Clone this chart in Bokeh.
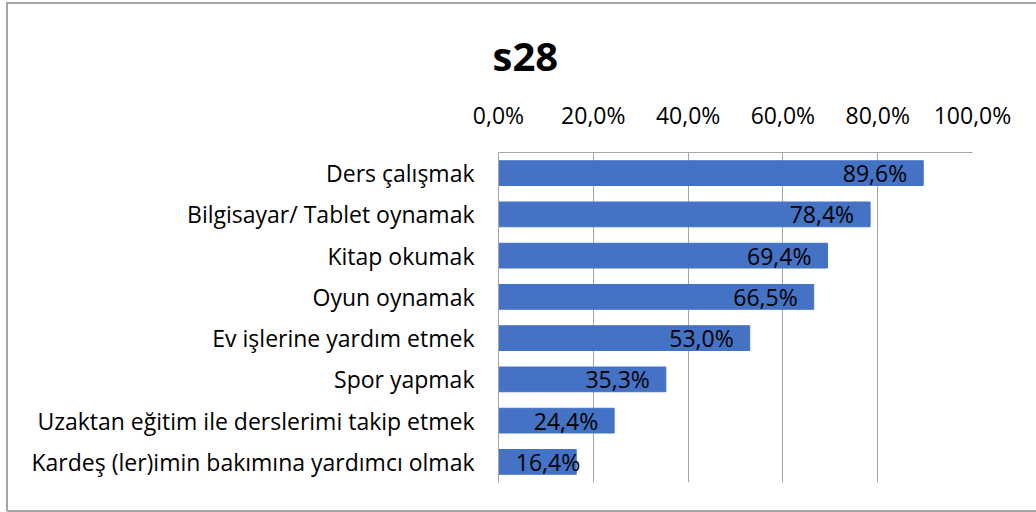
from bokeh.plotting import figure
from bokeh.models import (FactorRange, Range1d, FixedTicker, CustomJSTickFormatter,
                          ColumnDataSource, LabelSet)
from bokeh.core.properties import value
from bokeh.embed import file_html
from bokeh.resources import INLINE

title = "s28"
categories = [
    "Ders çalışmak",
    "Bilgisayar/ Tablet oynamak",
    "Kitap okumak",
    "Oyun oynamak",
    "Ev işlerine yardım etmek",
    "Spor yapmak",
    "Uzaktan eğitim ile derslerimi takip etmek",
    "Kardeş (ler)imin bakımına yardımcı olmak",
]
values = [89.6, 78.4, 69.4, 66.5, 53.0, 35.3, 24.4, 16.4]
x_ticks = [0, 20, 40, 60, 80, 100]

FONT = "Open Sans"
FS = "23px"
BAR = "#4472C4"
GRID = "#a6a6a6"

W, H = 1036, 512
FL, FR, FT, FB = 498, 972, 152, 482  # frame box in pixels

labels = [f"{v:.1f}".replace(".", ",") + "%" for v in values]
offsets = [(-16 if v >= 20 else 4) for v in values]
src = ColumnDataSource(dict(cat=categories, val=values, lab=labels, off=offsets))

p = figure(width=W, height=H, output_backend="svg", toolbar_location=None,
           y_range=FactorRange(*reversed(categories), range_padding=0),
           x_range=Range1d(0, 100), x_axis_location="above",
           min_border_left=FL, min_border_right=W - FR, min_border_top=FT,
           min_border_bottom=H - FB, title=title)
p.outline_line_color = None
p.background_fill_color = "white"
p.border_fill_color = None
p.styles = {
    "background-color": "white",
    "background-image": ", ".join([f"linear-gradient({GRID},{GRID})"] * 3),
    "background-size": "1100px 2px, 2px 509px, 1100px 2px",
    "background-position": "7px 2px, 6px 2px, 7px 510px",
    "background-repeat": "no-repeat",
}

p.title.align = "left"
p.title.offset = -6
p.title.text_font = FONT
p.title.text_font_size = "40px"
p.title.text_font_style = "bold"
p.title.text_color = "black"
p.title.standoff = 25

p.hbar(y="cat", right="val", left=0, height=0.6, source=src, color=BAR)

xa = p.xaxis[0]
xa.ticker = FixedTicker(ticks=x_ticks)
xa.formatter = CustomJSTickFormatter(code="return tick.toFixed(1).replace('.', ',') + '%';")
xa.major_label_text_font = FONT
xa.major_label_text_font_size = FS
xa.major_label_text_color = "black"
xa.major_tick_line_color = None
xa.major_tick_out = 0
xa.major_tick_in = 0
xa.minor_tick_line_color = None
xa.axis_line_color = GRID
xa.major_label_standoff = 22

ya = p.yaxis[0]
ya.major_label_text_font = FONT
ya.major_label_text_font_size = FS
ya.major_label_text_color = "black"
ya.major_tick_line_color = None
ya.major_tick_out = 0
ya.major_tick_in = 0
ya.minor_tick_line_color = None
ya.axis_line_color = GRID
ya.major_label_standoff = 24

p.xgrid.grid_line_color = GRID
p.xgrid.ticker = FixedTicker(ticks=x_ticks)
p.ygrid.grid_line_color = None

p.add_layout(LabelSet(x="val", y="cat", text="lab", source=src, x_offset="off",
                      text_align="right", text_baseline="middle",
                      text_font=value(FONT), text_font_size=value(FS),
                      text_color="black"))

open("out.html", "w").write(file_html(p, INLINE))
